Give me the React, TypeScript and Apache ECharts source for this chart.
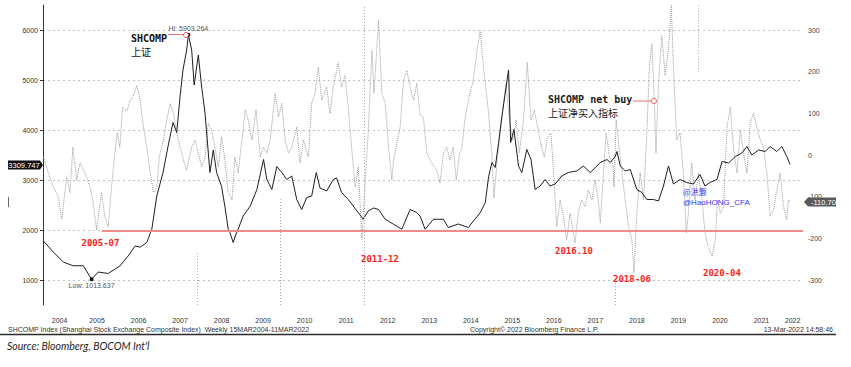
import React, { useEffect, useRef } from 'react';
import * as echarts from 'echarts';

// SHCOMP weekly close (left axis)
const shDates = [
  2004.21, 2004.45, 2004.69, 2004.93, 2005.17, 2005.37, 2005.53, 2005.77, 2006.05, 2006.25,
  2006.42, 2006.54, 2006.70, 2006.82, 2006.94, 2007.09, 2007.21, 2007.33, 2007.42, 2007.50,
  2007.57, 2007.66, 2007.70, 2007.78, 2007.84, 2007.94, 2008.02, 2008.10, 2008.22, 2008.30,
  2008.38, 2008.50, 2008.58, 2008.66, 2008.70, 2008.78, 2008.84, 2008.90, 2009.02, 2009.19,
  2009.35, 2009.51, 2009.59, 2009.71, 2009.83, 2009.95, 2010.07, 2010.19, 2010.31, 2010.43,
  2010.55, 2010.67, 2010.78, 2010.87, 2011.03, 2011.19, 2011.27, 2011.39, 2011.55, 2011.67,
  2011.79, 2011.91, 2012.03, 2012.16, 2012.28, 2012.44, 2012.64, 2012.84, 2013.04, 2013.20,
  2013.28, 2013.40, 2013.60, 2013.84, 2013.96, 2014.20, 2014.44, 2014.60, 2014.73, 2014.85,
  2014.93, 2015.01, 2015.09, 2015.17, 2015.25, 2015.33, 2015.41, 2015.46, 2015.54, 2015.65,
  2015.73, 2015.85, 2015.95, 2016.05, 2016.17, 2016.29, 2016.41, 2016.53, 2016.69, 2016.85,
  2017.05, 2017.21, 2017.38, 2017.62, 2017.78, 2017.86, 2017.98, 2018.02, 2018.10, 2018.22,
  2018.34, 2018.50, 2018.62, 2018.74, 2018.90, 2019.02, 2019.14, 2019.26, 2019.38, 2019.54,
  2019.70, 2019.86, 2020.02, 2020.14, 2020.26, 2020.43, 2020.55, 2020.71, 2020.87, 2021.03,
  2021.15, 2021.27, 2021.43, 2021.59, 2021.71, 2021.87, 2021.99, 2022.11, 2022.19,
];
const shValues = [
  1783, 1558, 1358, 1285, 1285, 1013.637, 1160, 1130, 1280, 1480,
  1680, 1657, 1750, 2016, 2680, 3150, 3670, 4150, 3950, 4670,
  5200, 5600, 5903.264, 5600, 4900, 5500, 4860, 4350, 3150, 3600,
  3150, 2870, 2470, 2016, 1950, 1750, 1900, 2020, 2280, 2480,
  2810, 3410, 3010, 2810, 3270, 3150, 3010, 3080, 2610, 2410,
  2650, 2680, 3150, 2840, 2780, 3010, 3040, 2750, 2610, 2480,
  2350, 2215, 2380, 2440, 2410, 2215, 2115, 2016, 2410, 2350,
  2280, 2016, 2215, 2215, 2050, 2120, 2050, 2215, 2350, 2550,
  3070, 3350, 3250, 3750, 4270, 4740, 5200, 3750, 4010, 3280,
  3150, 3610, 3410, 2810, 2880, 3010, 2880, 2920, 3080, 3150,
  3180, 3280, 3150, 3350, 3410, 3350, 3470, 3570, 3280, 3180,
  3210, 2810, 2750, 2610, 2610, 2580, 2880, 3280, 2920, 3010,
  2950, 2920, 3110, 2880, 2950, 3010, 3370, 3340, 3470, 3540,
  3670, 3500, 3600, 3570, 3670, 3570, 3670, 3470, 3309.747,
];

// SHCOMP net buy indicator (right axis)
const nbDates = [
  2004.21, 2004.33, 2004.45, 2004.57, 2004.65, 2004.77, 2004.85, 2004.92, 2005.01, 2005.09,
  2005.21, 2005.33, 2005.41, 2005.49, 2005.61, 2005.69, 2005.77, 2005.85, 2005.93, 2005.99,
  2006.05, 2006.12, 2006.22, 2006.30, 2006.37, 2006.46, 2006.54, 2006.62, 2006.70, 2006.78,
  2006.86, 2006.94, 2007.00, 2007.10, 2007.18, 2007.26, 2007.34, 2007.42, 2007.50, 2007.58,
  2007.66, 2007.78, 2007.86, 2007.94, 2008.02, 2008.10, 2008.18, 2008.26, 2008.34, 2008.42,
  2008.50, 2008.58, 2008.66, 2008.75, 2008.82, 2008.90, 2008.99, 2009.07, 2009.14, 2009.23,
  2009.33, 2009.43, 2009.51, 2009.59, 2009.67, 2009.79, 2009.87, 2009.95, 2010.03, 2010.11,
  2010.19, 2010.31, 2010.39, 2010.47, 2010.59, 2010.67, 2010.75, 2010.83, 2010.91, 2011.03,
  2011.11, 2011.19, 2011.31, 2011.39, 2011.47, 2011.55, 2011.63, 2011.72, 2011.79, 2011.88,
  2011.95, 2012.03, 2012.12, 2012.17, 2012.28, 2012.36, 2012.44, 2012.52, 2012.60, 2012.64,
  2012.72, 2012.80, 2012.88, 2012.96, 2013.04, 2013.12, 2013.20, 2013.28, 2013.36, 2013.44,
  2013.56, 2013.68, 2013.76, 2013.84, 2013.92, 2014.00, 2014.08, 2014.15, 2014.23, 2014.28,
  2014.35, 2014.41, 2014.48, 2014.56, 2014.65, 2014.73, 2014.79, 2014.85, 2014.93, 2015.01,
  2015.06, 2015.13, 2015.21, 2015.29, 2015.35, 2015.43, 2015.51, 2015.59, 2015.67, 2015.77,
  2015.86, 2015.95, 2016.03, 2016.11, 2016.19, 2016.27, 2016.35, 2016.43, 2016.51, 2016.57,
  2016.65, 2016.73, 2016.81, 2016.89, 2016.96, 2017.01, 2017.09, 2017.17, 2017.25, 2017.33,
  2017.42, 2017.49, 2017.57, 2017.62, 2017.70, 2017.76, 2017.84, 2017.92, 2017.95, 2018.00,
  2018.06, 2018.14, 2018.22, 2018.30, 2018.38, 2018.43, 2018.50, 2018.58, 2018.66, 2018.74,
  2018.80, 2018.86, 2018.92, 2018.96, 2019.02, 2019.10, 2019.18, 2019.26, 2019.33, 2019.38,
  2019.46, 2019.54, 2019.62, 2019.69, 2019.74, 2019.82, 2019.90, 2019.98, 2020.07, 2020.14,
  2020.22, 2020.31, 2020.39, 2020.44, 2020.51, 2020.59, 2020.67, 2020.75, 2020.83, 2020.91,
  2020.99, 2021.07, 2021.15, 2021.23, 2021.31, 2021.39, 2021.47, 2021.55, 2021.63, 2021.71,
  2021.79, 2021.87, 2021.95, 2022.03, 2022.11, 2022.15, 2022.19,
];
const nbValues = [
  -5, -43, -77, -100, -155, -53, -90, 19, -60, -19,
  -43, -77, -115, -180, -90, -148, -172, -77, 5, 53,
  19, 115, 105, 132, 140, 167, 132, 67, 19, -43,
  -90, -82, -5, 36, 84, 124, 100, 53, 19, -12,
  -36, 19, 36, 5, -29, -5, 77, 60, 19, -29,
  43, -12, -90, -108, -5, -43, 36, 108, 84, 36,
  108, -5, 19, 5, 36, 148, 91, 124, 36, 5,
  19, 67, -19, 36, -5, 124, 148, 211, 132, 163,
  100, 163, 222, 163, 191, 115, 19, -77, -29, -203,
  -77, 53, 251, 148, 323, 148, 124, 19, -60, -12,
  27, 67, 179, 203, 163, 132, 172, 95, 90, 5,
  -19, -36, -67, 5, 19, -12, 19, -60, 5, 12,
  77, 115, 148, 179, 251, 299, 227, 172, 100, -5,
  -103, -19, 53, 124, 172, 84, 36, 84, 5, 84,
  222, 84, 108, 67, 27, -5, 43, 53, -67, -172,
  -108, -148, -203, -140, -180, -211, -140, -108, -124, -84,
  -108, -60, -108, -163, -36, 53, -5, -19, -77, 84,
  27, -43, -108, -172, -203, -283, -140, -43, -108, 53,
  211, 267, 132, 5, 172, 287, 191, 251, 359, 211,
  36, 53, -43, -187, -140, -19, -108, -43, -108, -187,
  -220, -244, -203, -108, -140, -124, 67, 115, 12, -43,
  60, 5, -43, 77, 100, 67, 36, 19, -43, -148,
  -132, -84, -43, -124, -155, -108, -110.7,
];

const leftTicks = [1000, 2000, 3000, 4000, 5000, 6000];
const rightTicks = [-300, -200, -100, 0, 100, 200, 300];
const yearLabels = ['2004', '2005', '2006', '2007', '2008', '2009', '2010', '2011', '2012', '2013',
  '2014', '2015', '2016', '2017', '2018', '2019', '2020', '2021', '2022'];
const yearLabelPos = [2004.6, 2005.5, 2006.5, 2007.5, 2008.5, 2009.5, 2010.5, 2011.5, 2012.5, 2013.5,
  2014.5, 2015.5, 2016.5, 2017.5, 2018.5, 2019.5, 2020.5, 2021.5, 2022.25];

// dotted event lines: [date, from, to] in SHCOMP units
const eventLines = [
  [2007.91, 500, 1578],
  [2009.91, 500, 2614],
  [2011.93, 500, 6500],
  [2017.97, 500, 960],
  [2019.97, 5163, 6500],
];
const supportLevel = 1982;
const supportStart = 2005.62;
const lastSh = '3309.747';
const lastNb = '-110.70';

const SANS = '"Liberation Sans", Arial, sans-serif';
const MONO = '"DejaVu Sans Mono", "Liberation Mono", monospace';
const CJK = '"Noto Sans CJK SC", sans-serif';

export default function App() {
  const ref = useRef<HTMLDivElement>(null);
  useEffect(() => {
    const chart = echarts.init(ref.current!, null, { renderer: 'svg' });
    const sh = shDates.map((d, i) => [d, shValues[i]]);
    const nb = nbDates.map((d, i) => [d, nbValues[i]]);
    const txt = (text: string, x: number, y: number, o: any = {}) => ({
      type: 'text', x, y, silent: true, z: 100,
      style: { text, fill: '#333', fontSize: 7, fontFamily: SANS, verticalAlign: 'middle', align: 'left', ...o },
    });
    const red = (t: string, x: number, y: number) =>
      txt(t, x, y, { fill: '#ff1a1a', fontSize: 9, fontWeight: 'bold', fontFamily: MONO });

    chart.setOption({
      animation: false,
      backgroundColor: '#ffffff',
      grid: { left: 43, right: 48, top: 5, bottom: 62, outerBoundsMode: 'none' },
      xAxis: {
        type: 'value', min: 2004.2, max: 2022.5,
        axisLine: { show: false }, axisTick: { show: false }, splitLine: { show: false },
        axisLabel: {
          customValues: yearLabelPos,
          formatter: (v: number) => yearLabels[yearLabelPos.indexOf(v)] ?? String(Math.floor(v)),
          color: '#333', fontSize: 7, fontFamily: SANS, margin: 12,
        },
      },
      yAxis: [
        {
          type: 'value', position: 'left', min: 500, max: 6500,
          axisLine: { show: true, lineStyle: { color: '#333', width: 1 } },
          axisTick: { show: true, customValues: leftTicks, length: 3, lineStyle: { color: '#333' } },
          axisLabel: {
            customValues: leftTicks, color: '#333', fontSize: 7, fontFamily: SANS, margin: 5,
            formatter: (v: number) => String(v),
          },
          splitLine: { show: true, lineStyle: { color: '#c2c2c2', type: [2, 3], width: 1 } },
        },
        {
          type: 'value', position: 'right', min: -360, max: 360,
          axisLine: { show: false },
          axisTick: { show: false, customValues: rightTicks },
          axisLabel: {
            customValues: rightTicks, color: '#444', fontSize: 7, fontFamily: SANS, margin: 5,
            formatter: (v: number) => String(v),
          },
          splitLine: { show: false },
        },
      ],
      series: [
        {
          type: 'line', name: 'SHCOMP net buy', yAxisIndex: 1, data: nb, showSymbol: false,
          lineStyle: { color: '#9a9a9a', width: 1, type: [1, 1] }, z: 2,
        },
        {
          type: 'line', name: 'SHCOMP', yAxisIndex: 0, data: sh, showSymbol: false,
          lineStyle: { color: '#1e1e1e', width: 1 }, z: 3,
          markPoint: {
            symbol: 'circle', symbolSize: 4, itemStyle: { color: '#111' },
            data: [
              { type: 'max', name: 'Hi', label: { position: 'top', distance: 1 } },
              { type: 'min', name: 'Low', label: { position: 'bottom', distance: 1 } },
            ],
            label: {
              show: true, color: '#555', fontSize: 7, fontFamily: SANS,
              formatter: (p: any) => `${p.name}: ${Number(p.value).toFixed(3)}`,
            },
          },
          markLine: {
            silent: true, symbol: 'none', label: { show: false },
            data: [
              [
                { coord: [supportStart, supportLevel], lineStyle: { color: '#f28a8a', width: 1.8, type: 'solid' } },
                { coord: [2022.5, supportLevel] },
              ],
              ...eventLines.map((e) => [
                { coord: [e[0], e[1]], lineStyle: { color: '#a8a8a8', width: 1, type: [1, 2] } },
                { coord: [e[0], e[2]] },
              ]),
            ],
          },
        },
      ],
      graphic: [
        // SHCOMP annotation
        { type: 'line', silent: true, z: 100, shape: { x1: 168, y1: 34.5, x2: 184, y2: 34.5 }, style: { stroke: '#f07070', lineWidth: 1 } },
        { type: 'circle', silent: true, z: 100, shape: { cx: 186, cy: 35, r: 2.5 }, style: { stroke: '#f05050', fill: '#fff', lineWidth: 1 } },
        txt('SHCOMP', 131, 38.5, { fill: '#111', fontSize: 10, fontWeight: 'bold', fontFamily: MONO }),
        txt('上证', 131, 51, { fill: '#111', fontSize: 10, fontFamily: CJK }),
        // net buy annotation
        { type: 'line', silent: true, z: 100, shape: { x1: 633, y1: 101, x2: 651.5, y2: 101 }, style: { stroke: '#f07070', lineWidth: 1 } },
        { type: 'circle', silent: true, z: 100, shape: { cx: 654, cy: 101, r: 2.5 }, style: { stroke: '#f05050', fill: '#fff', lineWidth: 1 } },
        txt('SHCOMP net buy', 548, 99.5, { fill: '#222', fontSize: 10, fontWeight: 'bold', fontFamily: MONO }),
        txt('上证净买入指标', 548, 112, { fill: '#222', fontSize: 10, fontFamily: CJK }),
        // watermark
        txt('@洪灏', 683, 191.5, { fill: '#3535ff', fontSize: 8, fontFamily: CJK }),
        txt('@HaoHONG_CFA', 683, 202, { fill: '#3535ff', fontSize: 8, fontFamily: SANS }),
        // period labels
        red('2005-07', 81.5, 243),
        red('2011-12', 361, 259),
        red('2016.10', 555, 251),
        red('2018-06', 613, 279),
        red('2020-04', 703, 273),
        // last value tags
        { type: 'polygon', silent: true, z: 100, shape: { points: [[8, 160.5], [40, 160.5], [43, 165], [40, 169.5], [8, 169.5]] }, style: { fill: '#111' } },
        txt(lastSh, 24, 165, { fill: '#fff', fontSize: 7.5, align: 'center' }),
        { type: 'polygon', silent: true, z: 100, shape: { points: [[804, 202], [808, 197.5], [836, 197.5], [836, 206.5], [808, 206.5]] }, style: { fill: '#5a5a5a' } },
        txt(lastNb, 811, 202, { fill: '#fff', fontSize: 7.5 }),
        // small axis title mark
        { type: 'line', silent: true, z: 100, shape: { x1: 8.5, y1: 197, x2: 8.5, y2: 207 }, style: { stroke: '#666', lineWidth: 1 } },
        // footer
        txt('SHCOMP Index (Shanghai Stock Exchange Composite Index)  Weekly 15MAR2004-11MAR2022', 8, 329.5, { fill: '#333' }),
        txt('Copyright© 2022 Bloomberg Finance L.P.', 470, 329.5, { fill: '#333' }),
        txt('13-Mar-2022 14:58:46', 833, 329.5, { fill: '#333', align: 'right' }),
        { type: 'line', silent: true, z: 100, shape: { x1: 0, y1: 334.5, x2: 836, y2: 334.5 }, style: { stroke: '#2a2a2a', lineWidth: 1.3 } },
        txt("Source: Bloomberg, BOCOM Int'l", 7, 345.5, { fill: '#1f1f1f', fontSize: 10.5, fontStyle: 'italic', fontFamily: 'Lato, "Open Sans", sans-serif' }),
      ],
    });
    return () => chart.dispose();
  }, []);
  return <div ref={ref} style={{ position: 'fixed', left: 0, top: 0, width: 851, height: 367 }} />;
}
